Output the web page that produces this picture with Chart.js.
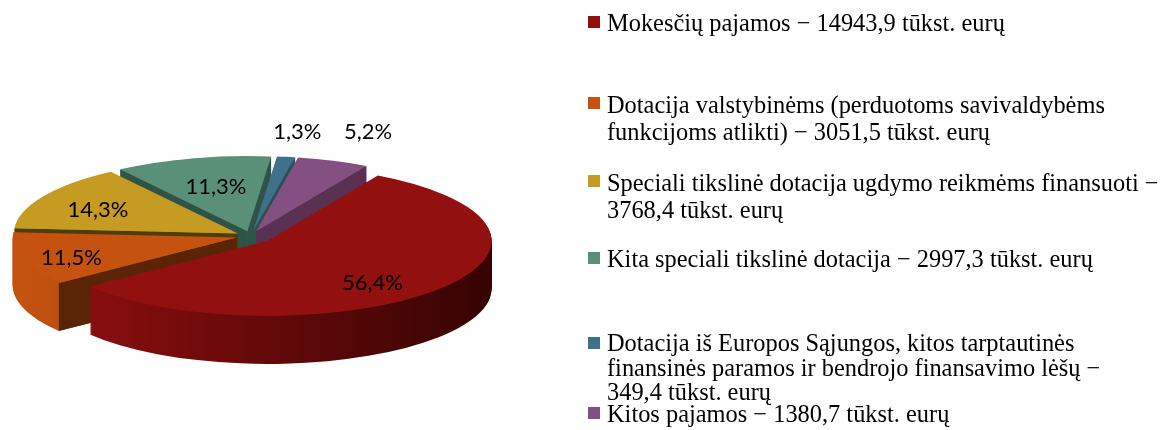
<!DOCTYPE html>
<html>
<head>
<meta charset="utf-8">
<script src="https://cdn.jsdelivr.net/npm/chart.js@4.4.1/dist/chart.umd.min.js"></script>
<style>
  html, body { margin: 0; padding: 0; background: #fff; }
  body { width: 1161px; height: 430px; position: relative; overflow: hidden; }
  #pieBox { position: absolute; left: 0; top: 0; width: 502px; height: 430px; }
  #legend { position: absolute; left: 0; top: 0; width: 1161px; height: 430px;
            font-family: "Liberation Serif", "Times New Roman", serif; font-size: 24.4px; color: #000; }
  .item { position: absolute; left: 588px; white-space: nowrap; }
  .box { position: absolute; left: 0; width: 12px; height: 12px; }
  .txt { position: absolute; left: 19px; top: 0; }
</style>
</head>
<body>
<div id="pieBox"><canvas id="pieChart" width="502" height="430"></canvas></div>
<div id="legend"></div>
<script>
// data
const categories = [
    "Mokesčių pajamos",
    "Dotacija valstybinėms (perduotoms savivaldybėms funkcijoms atlikti)",
    "Speciali tikslinė dotacija ugdymo reikmėms finansuoti",
    "Kita speciali tikslinė dotacija",
    "Dotacija iš Europos Sąjungos, kitos tarptautinės finansinės paramos ir bendrojo finansavimo lėšų",
    "Kitos pajamos"
];
const shares = [56.4, 11.5, 14.3, 11.3, 1.3, 5.2];          // % shown on the slices
const amounts = [14943.9, 3051.5, 3768.4, 2997.3, 349.4, 1380.7]; // tūkst. eurų
const legendLines = [
    ["Mokesčių pajamos − 14943,9 tūkst. eurų"],
    ["Dotacija valstybinėms (perduotoms savivaldybėms", "funkcijoms atlikti) − 3051,5 tūkst. eurų"],
    ["Speciali tikslinė dotacija ugdymo reikmėms finansuoti −", "3768,4 tūkst. eurų"],
    ["Kita speciali tikslinė dotacija − 2997,3 tūkst. eurų"],
    ["Dotacija iš Europos Sąjungos, kitos tarptautinės", "finansinės paramos ir bendrojo finansavimo lėšų −", "349,4 tūkst. eurų"],
    ["Kitos pajamos − 1380,7 tūkst. eurų"]
];

// styles
const topColors  = ["#921010", "#c5520f", "#c59b22", "#5a8f78", "#41708a", "#845082"];
const rimLight   = ["#920f0f", "#c5530f", "#c09620", "#4f8470", "#3a6880", "#7a4a78"];
const rimDark    = ["#360303", "#7a3208", "#5a470f", "#2c4a3e", "#203848", "#3e2340"];
const cutColors  = ["#4a0606", "#5a2407", "#4e3d0c", "#2f5346", "#2a4d60", "#5a3152"];
const explode    = [22, 15, 15, 15, 15, 15];
const labelRadius = [0.62, 0.77, 0.72, 0.57, 1.34, 1.45];
const labelDrop   = [12, 4, 3, -3, 0, 3];
const legendBaseline = [31, 112, 190, 267, 352, 422];
const legendLineH    = [26, 27, 27, 26, 24.5, 26];

const flatten = 0.335;
const depth = 48;

function midAngle(arc) {
    return (arc.startAngle + arc.endAngle) / 2;
}

// centre of a slice on screen after exploding and flattening
function sliceCentre(arc, i) {
    const mid = midAngle(arc);
    return {
        x: arc.x + explode[i] * Math.cos(mid),
        y: arc.y + explode[i] * Math.sin(mid) * flatten
    };
}

function place(ctx, arc, i, d) {
    const c = sliceCentre(arc, i);
    ctx.translate(c.x, c.y + d);
    ctx.scale(1, flatten);
    ctx.translate(-arc.x, -arc.y);
}

const pie3d = {
    id: "pie3d",
    beforeDatasetsDraw(chart) {
        const ctx = chart.ctx;
        const arcs = chart.getDatasetMeta(0).data;

        // sides, back slices first
        const order = arcs.map((a, i) => i)
            .sort((a, b) => Math.sin(midAngle(arcs[a])) - Math.sin(midAngle(arcs[b])));

        order.forEach(i => {
            const arc = arcs[i];
            const r = arc.outerRadius;

            // outer wall, stacked layers
            for (let d = depth; d >= 1; d--) {
                ctx.save();
                place(ctx, arc, i, d);
                const g = ctx.createLinearGradient(arc.x - r, 0, arc.x + r, 0);
                g.addColorStop(0, rimLight[i]);
                g.addColorStop(1, rimDark[i]);
                ctx.beginPath();
                ctx.moveTo(arc.x, arc.y);
                ctx.arc(arc.x, arc.y, r, arc.startAngle, arc.endAngle);
                ctx.closePath();
                ctx.fillStyle = g;
                ctx.fill();
                ctx.restore();
            }

            // radial cut faces that turn towards the viewer
            const c = sliceCentre(arc, i);
            const edges = [];
            if (Math.cos(arc.startAngle) < 0) edges.push(arc.startAngle);
            if (Math.cos(arc.endAngle) > 0) edges.push(arc.endAngle);
            edges.forEach(t => {
                const px = c.x + r * Math.cos(t);
                const py = c.y + r * Math.sin(t) * flatten;
                ctx.beginPath();
                ctx.moveTo(c.x, c.y);
                ctx.lineTo(px, py);
                ctx.lineTo(px, py + depth);
                ctx.lineTo(c.x, c.y + depth);
                ctx.closePath();
                ctx.fillStyle = cutColors[i];
                ctx.fill();
            });
        });

        // top faces
        arcs.forEach((arc, i) => {
            ctx.save();
            place(ctx, arc, i, 0);
            arc.draw(ctx);
            ctx.restore();
        });
        return false;
    },
    afterDraw(chart) {
        const ctx = chart.ctx;
        const arcs = chart.getDatasetMeta(0).data;
        const data = chart.data.datasets[0].data;
        ctx.save();
        ctx.font = "22px Lato";
        ctx.fillStyle = "#000";
        ctx.textAlign = "center";
        ctx.textBaseline = "middle";
        arcs.forEach((arc, i) => {
            const mid = midAngle(arc);
            const dist = explode[i] + labelRadius[i] * arc.outerRadius;
            const x = arc.x + dist * Math.cos(mid);
            const y = arc.y + dist * Math.sin(mid) * flatten + labelDrop[i];
            ctx.fillText(data[i].toFixed(1).replace(".", ",") + "%", x, y);
        });
        ctx.restore();
    }
};

new Chart(document.getElementById("pieChart"), {
    type: "pie",
    data: {
        labels: categories,
        datasets: [{
            data: shares,
            backgroundColor: topColors,
            borderWidth: 0
        }]
    },
    options: {
        responsive: false,
        animation: false,
        events: [],
        rotation: 29.5,
        radius: 224,
        layout: {padding: {top: 42}},
        plugins: {
            legend: {display: false},
            tooltip: {enabled: false}
        }
    },
    plugins: [pie3d]
});

// legend
const legend = document.getElementById("legend");
legendLines.forEach((lines, i) => {
    const item = document.createElement("div");
    item.className = "item";
    item.style.lineHeight = legendLineH[i] + "px";
    item.style.top = (legendBaseline[i] - 21) + "px";
    const box = document.createElement("div");
    box.className = "box";
    box.style.background = topColors[i];
    box.style.top = "6px";
    const txt = document.createElement("div");
    txt.className = "txt";
    txt.innerHTML = lines.join("<br>");
    item.appendChild(box);
    item.appendChild(txt);
    legend.appendChild(item);
});
</script>
</body>
</html>
